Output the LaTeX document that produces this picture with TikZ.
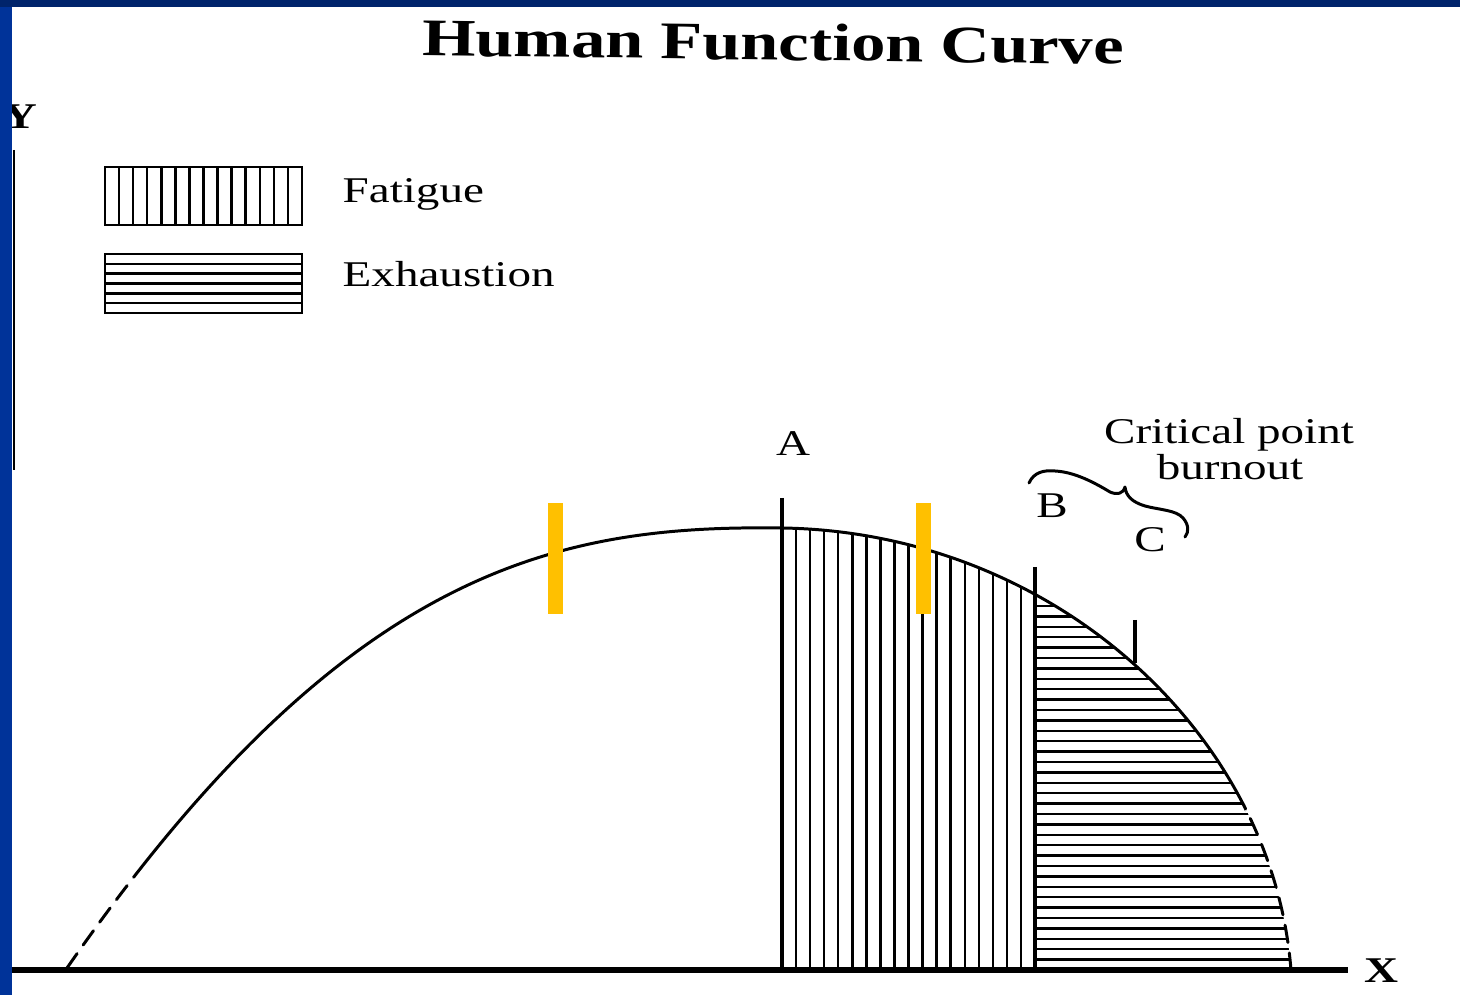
\documentclass[tikz,border=0pt]{standalone}
\usepackage{graphicx}
\usepackage{fontspec}
\setmainfont{Liberation Serif}
\definecolor{navy}{RGB}{0,36,107}
\definecolor{slideblue}{RGB}{0,51,153}
\definecolor{gold}{RGB}{255,192,0}
\newcommand\stretchtxt[1]{\scalebox{1.3}[1]{#1}}
\begin{document}
\begin{tikzpicture}[x=0.01cm,y=-0.01cm,
  curveline/.style={line width=0.85pt, line cap=round, line join=round},
  hatchline/.style={line width=0.7pt},
  markline/.style={line width=1.1pt},
  boxline/.style={line width=0.7pt},
  lbl/.style={inner sep=0pt, font=\fontsize{10.3}{12}\selectfont},
  titlelbl/.style={inner sep=0pt, font=\fontsize{15}{18}\selectfont\bfseries},
  axislbl/.style={inner sep=0pt, font=\fontsize{10.3}{12}\selectfont\bfseries}]
\useasboundingbox (0,0) rectangle (1460,995);
\fill[white] (0,0) rectangle (1460,995);

% title
\node[titlelbl, anchor=base, rotate=-0.7] (title) at (773,60) {\stretchtxt{Human Function Curve}};

% axes
\draw[line width=0.8pt] (14,150) -- (14,470);
\draw[line width=1.45pt] (12,970) -- (1348,970);
\node[axislbl, anchor=base] (ylab) at (20,129) {\stretchtxt{Y}};
\node[axislbl, anchor=base] (xlab) at (1381,983) {\stretchtxt{X}};

% legend
\draw[boxline] (105,167) rectangle (302,225);
\foreach \k in {1,...,13} \draw[boxline] ({105+14.07*\k},167) -- ({105+14.07*\k},225);
\draw[boxline] (105,254) rectangle (302,313);
\foreach \k in {1,...,5} \draw[boxline] (105,{254+9.83*\k}) -- (302,{254+9.83*\k});
\node[lbl, anchor=base west] (fatigue) at (342,203) {\stretchtxt{Fatigue}};
\node[lbl, anchor=base west] (exhaustion) at (342,287) {\stretchtxt{Exhaustion}};

% hatching under the curve
\begin{scope}
\clip (67,968) .. controls (347,565) and (560,525) .. (782,528)
  .. controls (1050,532) and (1272,730) .. (1291,970) -- cycle;
\foreach \k in {1,...,17} \draw[hatchline] ({782+14.06*\k},450) -- ({782+14.06*\k},970);
\foreach \k in {1,...,35} \draw[hatchline] (1035,{970-10.4*\k}) -- (1400,{970-10.4*\k});
\end{scope}

% the curve: solid middle
\begin{scope}
\clip (135,0) rectangle (1245,995);
\draw[curveline] (67,968) .. controls (347,565) and (560,525) .. (782,528)
  .. controls (1050,532) and (1272,730) .. (1291,970);
\end{scope}
% dashed ends
\begin{scope}
\clip (0,0) rectangle (135,995) (1245,0) rectangle (1460,995);
\draw[curveline, dash pattern=on 5pt off 3pt] (67,968) .. controls (347,565) and (560,525) .. (782,528)
  .. controls (1050,532) and (1272,730) .. (1291,970);
\end{scope}

% markers A, B, C
\draw[markline] (782,498) -- (782,970);
\draw[markline] (1035,567) -- (1035,970);
\draw[markline] (1135,620) -- (1135,663);
\node[lbl, anchor=base] (A) at (793,456) {\stretchtxt{A}};
\node[lbl, anchor=base] (B) at (1052,518) {\stretchtxt{B}};
\node[lbl, anchor=base] (C) at (1150,552) {\stretchtxt{C}};
\node[lbl, anchor=base] (crit) at (1229,444) {\stretchtxt{Critical point}};
\node[lbl, anchor=base] (burn) at (1230,480) {\stretchtxt{burnout}};

% brace
\draw[curveline] (1029,483) .. controls (1034,472) and (1044,470) .. (1055,471)
  .. controls (1075,472) and (1095,483) .. (1110,492)
  .. controls (1117,495) and (1123,494) .. (1125,487)
  .. controls (1126,496) and (1132,502) .. (1145,506)
  .. controls (1160,510) and (1176,510) .. (1183,518)
  .. controls (1189,525) and (1189,532) .. (1185,537);

% yellow bars
\fill[gold] (548,503) rectangle (563,614);
\fill[gold] (916,503) rectangle (931,614);

% slide border
\fill[slideblue] (0,0) rectangle (12,995);
\fill[navy] (0,0) rectangle (1460,7);
\end{tikzpicture}
\end{document}
